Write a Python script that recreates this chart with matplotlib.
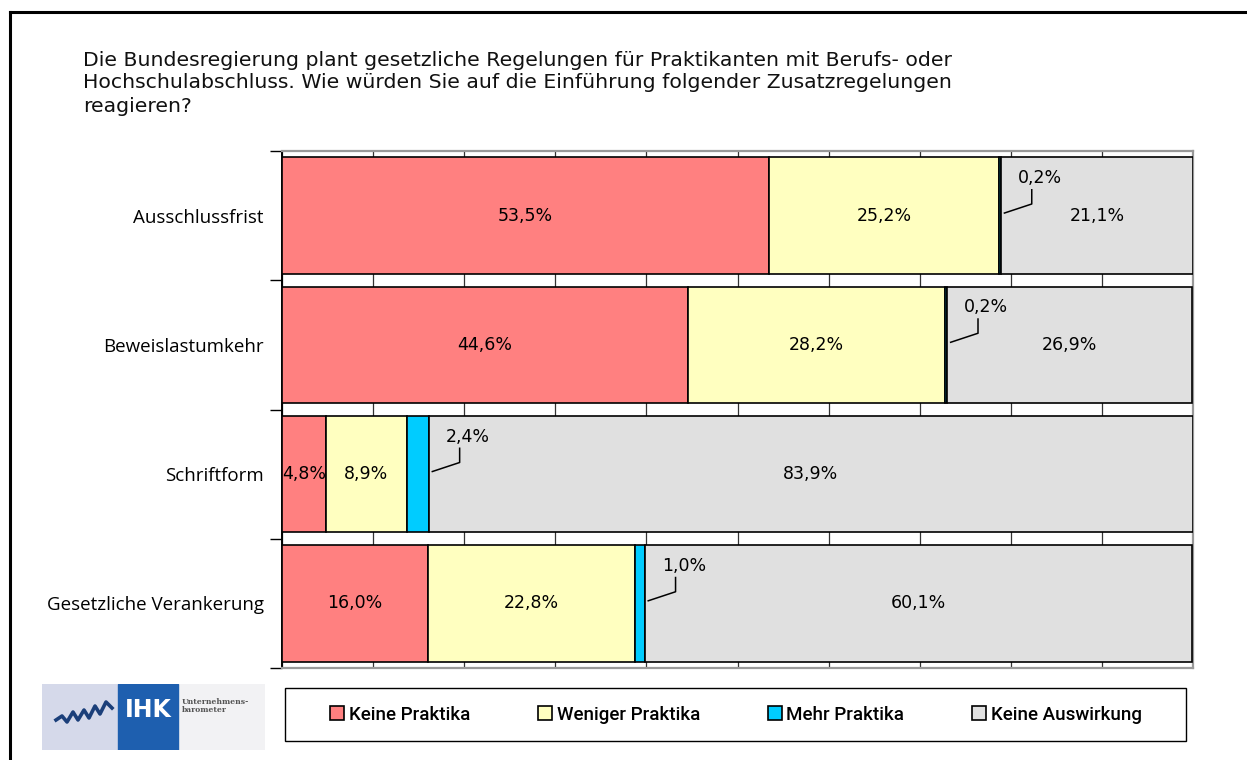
import numpy as np
import matplotlib.pyplot as plt
from matplotlib.patches import Rectangle, Patch
from matplotlib.lines import Line2D

# data
categories = ['Ausschlussfrist', 'Beweislastumkehr', 'Schriftform', 'Gesetzliche Verankerung']
series_names = ['Keine Praktika', 'Weniger Praktika', 'Mehr Praktika', 'Keine Auswirkung']
keine = [53.5, 44.6, 4.8, 16.0]
weniger = [25.2, 28.2, 8.9, 22.8]
mehr = [0.2, 0.2, 2.4, 1.0]
auswirkung = [21.1, 26.9, 83.9, 60.1]
colors = ['#FF8080', '#FFFFC0', '#00CCFF', '#E0E0E0']

title_lines = ['Die Bundesregierung plant gesetzliche Regelungen für Praktikanten mit Berufs- oder',
               'Hochschulabschluss. Wie würden Sie auf die Einführung folgender Zusatzregelungen',
               'reagieren?']

W, H = 1247, 760
fig = plt.figure(figsize=(W / 100, H / 100), dpi=100)

# frame lines (top and left) of the original page
fig.add_artist(Line2D([10 / W, 1], [1 - 12 / H, 1 - 12 / H], color='black', lw=2.2))
fig.add_artist(Line2D([10 / W, 10 / W], [0, 1 - 12 / H], color='black', lw=2.2))

for i, line in enumerate(title_lines):
    fig.text(83 / W, 1 - (60 + 23 * i) / H, line, fontsize=14.7, family='DejaVu Sans',
             va='center', ha='left', color='#111111')

ax = fig.add_axes([282 / W, 1 - 668 / H, 911 / W, 517 / H])
y = np.arange(len(categories))
data = [keine, weniger, mehr, auswirkung]
left = np.zeros(len(categories))
for vals, c in zip(data, colors):
    ax.barh(y, vals, left=left, height=0.9, color=c, edgecolor='black', linewidth=1.2, zorder=3)
    for yi, (l, v) in enumerate(zip(left, vals)):
        if v >= 3:
            ax.text(l + v / 2, yi, f'{v:.1f}%'.replace('.', ','), ha='center', va='center',
                    fontsize=12.5, zorder=5)
        else:
            x0 = l + v + 0.4
            xe = x0 + 3.0
            ax.plot([x0, xe, xe], [yi - 0.02, yi - 0.09, yi - 0.2], color='black', lw=1.1, zorder=5)
            ax.text(xe + 0.9, yi - 0.29, f'{v:.1f}%'.replace('.', ','), ha='center', va='center',
                    fontsize=12.5, zorder=5)
    left = left + np.array(vals)

ax.set_xlim(0, 100)
ax.set_ylim(3.5, -0.5)
ax.set_xticks(np.arange(0, 101, 10))
ax.xaxis.grid(True, color='#333333', lw=0.9, zorder=0)
ax.tick_params(axis='x', length=0, labelbottom=False)
ax.set_yticks(np.arange(-0.5, 3.6, 1))
ax.set_yticklabels([])
ax.tick_params(axis='y', which='major', length=9, width=1, color='black', direction='out')
ax.set_yticks(y, minor=True)
ax.set_yticklabels(categories, minor=True, fontsize=13.5, family='Open Sans')
ax.tick_params(axis='y', which='minor', length=0, pad=13)
for s in ['top', 'right', 'bottom']:
    ax.spines[s].set_color('#999999')
    ax.spines[s].set_linewidth(1.6)
ax.spines['left'].set_color('black')
ax.spines['left'].set_linewidth(1.4)

# legend box and entries
fig.add_artist(Rectangle((285 / W, 1 - 741 / H), 901 / W, 53 / H, transform=fig.transFigure,
                         facecolor='white', edgecolor='black', lw=1.0))
handles = [Patch(facecolor=c, edgecolor='black', linewidth=1.2) for c in colors]
leg = fig.legend(handles, series_names, ncol=4, loc='center',
                 bbox_to_anchor=(736 / W, 1 - 714.5 / H), borderaxespad=0,
                 frameon=False, handlelength=0.75, handleheight=0.75, handletextpad=0.25,
                 columnspacing=3.6, prop={'family': 'Roboto', 'weight': 'medium', 'size': 13.5})

# IHK logo
lax = fig.add_axes([42 / W, 1 - 750 / H, 223 / W, 66 / H])
lax.set_xlim(0, 223)
lax.set_ylim(0, 66)
lax.axis('off')
lax.add_patch(Rectangle((0, 0), 223, 66, color='#F2F2F4'))
lax.add_patch(Rectangle((0, 0), 78, 66, color='#D5D9EA'))
lax.add_patch(Rectangle((76, 0), 60, 66, color='#1E5FAF'))
lax.plot([14, 20, 25, 31, 36, 42, 47, 53, 58, 64, 70],
         [30, 34, 28, 38, 30, 40, 32, 44, 36, 48, 42], color='#1B3F7A', lw=2.6)
lax.text(106, 40, 'IHK', color='white', fontsize=17, fontweight='bold', ha='center', va='center')
lax.text(140, 44, 'Unternehmens-\nbarometer', color='#555555', fontsize=5.5, fontweight='bold',
         family='DejaVu Serif', ha='left', va='center', linespacing=1.0)

fig.savefig('out.png', dpi=100)
